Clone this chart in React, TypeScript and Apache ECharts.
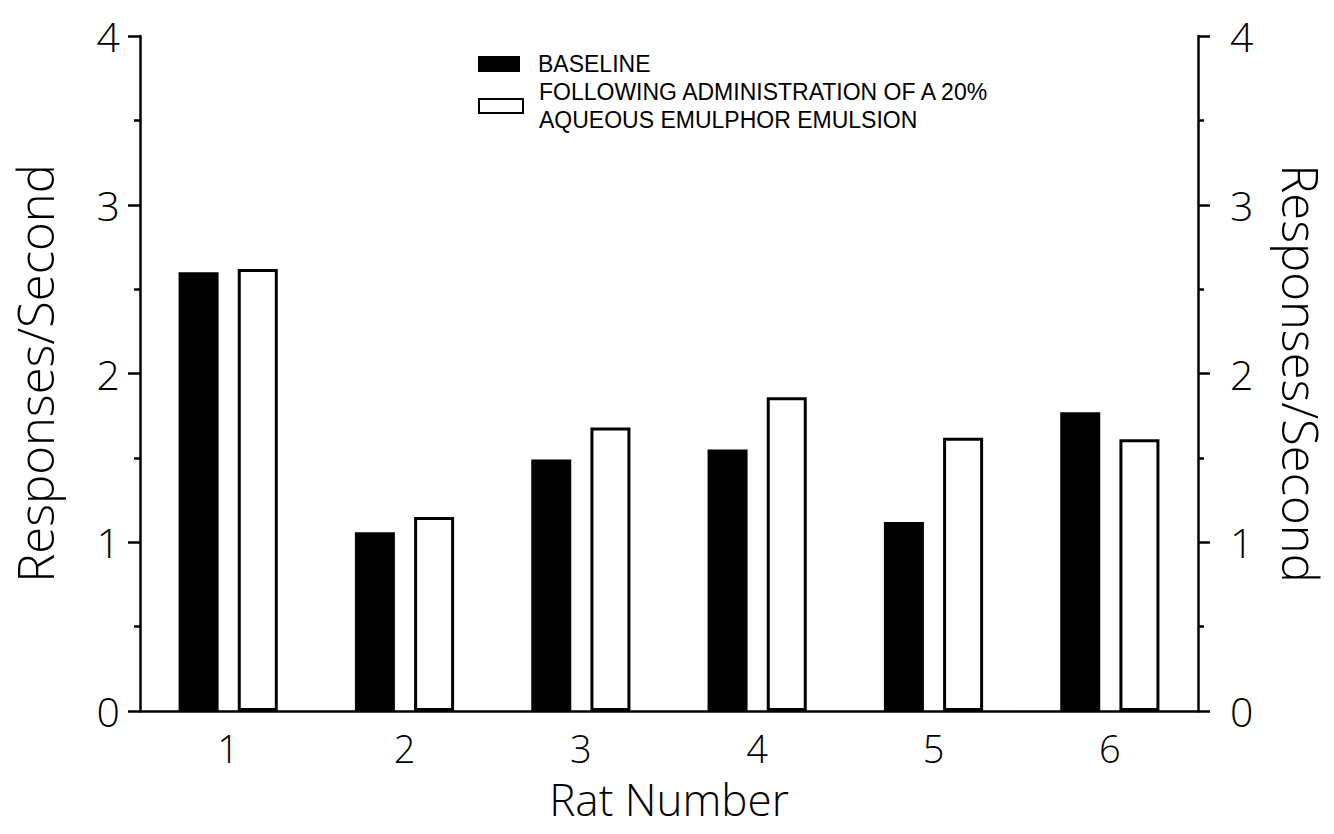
import React, { useEffect, useRef } from "react";
import * as echarts from "echarts";

const rats = ["1", "2", "3", "4", "5", "6"];
const baseline = [2.6, 1.06, 1.49, 1.55, 1.12, 1.77];
const following = [2.62, 1.15, 1.68, 1.86, 1.62, 1.61];
const yTicks = [0, 1, 2, 3, 4];

const nameBaseline = "BASELINE";
const nameFollowing = "FOLLOWING ADMINISTRATION OF A 20%\nAQUEOUS EMULPHOR EMULSION";

const tickFont = "'Open Sans', 'DejaVu Sans', sans-serif";
const legendFont = "'Liberation Sans Narrow', 'Liberation Sans', Arial, sans-serif";

export default function App() {
  const ref = useRef<HTMLDivElement>(null);
  useEffect(() => {
    if (!ref.current) return;
    const chart = echarts.init(ref.current, undefined, { renderer: "svg" });
    const yAxisBase = (pos: "left" | "right", margin: number, nameGap: number, rotate: number) => ({
      type: "value",
      position: pos,
      min: yTicks[0],
      max: yTicks[yTicks.length - 1],
      interval: 1,
      name: "Responses/Second",
      nameLocation: "middle",
      nameGap,
      nameRotate: rotate,
      nameTextStyle: { fontFamily: tickFont, fontSize: 49, fontWeight: 300, color: "#000", lineHeight: 50 },
      axisLine: { show: true, lineStyle: { color: "#000", width: 2.5 } },
      axisTick: { show: true, length: 12, lineStyle: { color: "#000", width: 2.5 } },
      minorTick: { show: true, splitNumber: 2, length: 6, lineStyle: { color: "#000", width: 2.5 } },
      splitLine: { show: false },
      minorSplitLine: { show: false },
      axisLabel: { margin, fontFamily: tickFont, fontSize: 41, fontWeight: 300, color: "#000" },
    });
    chart.setOption({
      animation: false,
      backgroundColor: "#fff",
      grid: {
        left: 140,
        right: 136,
        top: 36,
        bottom: 123,
        containLabel: false,
        outerBoundsMode: "none",
      },
      legend: [
        {
          data: [nameBaseline],
          orient: "vertical",
          icon: "rect",
          left: 478,
          top: 50,
          padding: 0,
          itemWidth: 42,
          itemHeight: 16,
          selectedMode: false,
          textStyle: { fontFamily: legendFont, fontSize: 23, color: "#000", lineHeight: 28, padding: [0, 0, 0, 13] },
        },
        {
          data: [nameFollowing],
          orient: "vertical",
          icon: "rect",
          left: 478,
          top: 64,
          padding: 0,
          itemWidth: 44,
          itemHeight: 14,
          selectedMode: false,
          textStyle: { fontFamily: legendFont, fontSize: 23, color: "#000", lineHeight: 28, padding: [28, 0, 0, 11] },
        },
      ],
      xAxis: {
        type: "category",
        data: rats,
        name: "Rat Number",
        nameLocation: "middle",
        nameGap: 66,
        nameTextStyle: { fontFamily: tickFont, fontSize: 44, fontWeight: 300, color: "#000" },
        axisLine: { show: true, lineStyle: { color: "#000", width: 2.5 } },
        axisTick: { show: false },
        axisLabel: { margin: 18, fontFamily: tickFont, fontSize: 38, fontWeight: 300, color: "#000" },
      },
      yAxis: [yAxisBase("left", 20, 80, 90), yAxisBase("right", 32, 78, -90)],
      series: [
        {
          name: nameBaseline,
          type: "bar",
          data: baseline,
          barWidth: 40,
          barGap: "48%",
          itemStyle: { color: "#000" },
        },
        {
          name: nameFollowing,
          type: "bar",
          data: following,
          barWidth: 40,
          itemStyle: { color: "#fff", borderColor: "#000", borderWidth: 3 },
        },
      ],
    });
    return () => chart.dispose();
  }, []);
  return (
    <div
      ref={ref}
      style={{ position: "fixed", left: 0, top: 0, width: 1334, height: 834, background: "#fff" }}
    />
  );
}
